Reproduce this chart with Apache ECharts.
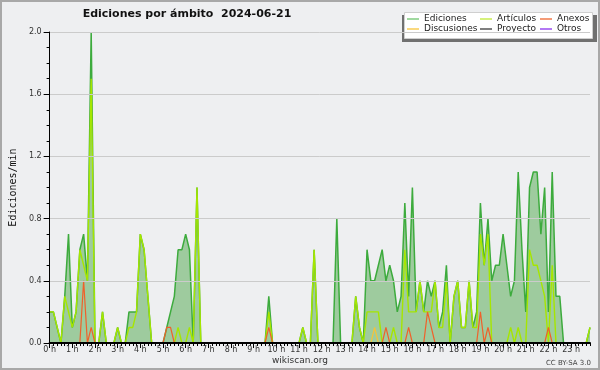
<!DOCTYPE html>
<html><head><meta charset="utf-8">
<script src="https://cdn.jsdelivr.net/npm/echarts@6/dist/echarts.min.js"></script>
<style>html,body{margin:0;padding:0;background:#eeeff1}#c{width:600px;height:370px}</style>
</head><body><div id="c"></div>
<script>
const hourLabels = ['0 h','1 h','2 h','3 h','4 h','5 h','6 h','7 h','8 h','9 h','10 h','11 h','12 h','13 h','14 h','15 h','16 h','17 h','18 h','19 h','20 h','21 h','22 h','23 h'];
const yTicks = [0, 0.4, 0.8, 1.2, 1.6, 2.0];
// one row per hour, 10-minute buckets (edits per minute)
const ediciones = [
 0.2,0.2,0.1,0,0.3,0.7,
 0.1,0.2,0.6,0.7,0.4,2.0,
 0,0,0.2,0,0,0,
 0.1,0,0,0.2,0.2,0.2,
 0.7,0.6,0.3,0,0,0,
 0,0.1,0.2,0.3,0.6,0.6,
 0.7,0.6,0,1.0,0,0,
 0,0,0,0,0,0,
 0,0,0,0,0,0,
 0,0,0,0,0.3,0,
 0,0,0,0,0,0,
 0,0.1,0,0,0.6,0,
 0,0,0,0,0.8,0,
 0,0,0,0.3,0.1,0,
 0.6,0.4,0.4,0.5,0.6,0.4,
 0.5,0.4,0.2,0.3,0.9,0.3,
 1.0,0.2,0.4,0.2,0.4,0.3,
 0.4,0.1,0.2,0.5,0,0.3,
 0.4,0.1,0.1,0.4,0.1,0.2,
 0.9,0.5,0.8,0.4,0.5,0.5,
 0.7,0.5,0.3,0.4,1.1,0.6,
 0.2,1.0,1.1,1.1,0.7,1.0,
 0.2,1.1,0.3,0.3,0,0,
 0,0,0,0,0,0.1
];
const articulos = [
 0.2,0.2,0.1,0,0.3,0.2,
 0.1,0.2,0.6,0.5,0.4,1.7,
 0,0,0.2,0,0,0,
 0.1,0,0,0.1,0.1,0.2,
 0.7,0.6,0.3,0,0,0,
 0,0,0,0,0.1,0,
 0,0.1,0,1.0,0,0,
 0,0,0,0,0,0,
 0,0,0,0,0,0,
 0,0,0,0,0.2,0,
 0,0,0,0,0,0,
 0,0.1,0,0,0.6,0,
 0,0,0,0,0,0,
 0,0,0,0.3,0.1,0,
 0.2,0.2,0.2,0.2,0,0,
 0,0.1,0,0,0.6,0.2,
 0.2,0.2,0.4,0.2,0.2,0.2,
 0.4,0.1,0.1,0.4,0,0.3,
 0.4,0.1,0.1,0.4,0.1,0.1,
 0.7,0.5,0.7,0,0,0,
 0,0,0.1,0,0.1,0,
 0,0.6,0.5,0.5,0.4,0.3,
 0,0.5,0,0,0,0,
 0,0,0,0,0,0.1
];
const anexos = [
 0,0,0,0,0,0,
 0,0,0,0.4,0,0.1,
 0,0,0,0,0,0,
 0,0,0,0,0,0,
 0,0,0,0,0,0,
 0,0.1,0.1,0,0,0,
 0,0,0,0,0,0,
 0,0,0,0,0,0,
 0,0,0,0,0,0,
 0,0,0,0,0.1,0,
 0,0,0,0,0,0,
 0,0,0,0,0,0,
 0,0,0,0,0,0,
 0,0,0,0,0,0,
 0,0,0,0,0,0.1,
 0,0,0,0,0,0.1,
 0,0,0,0,0.2,0.1,
 0,0,0,0,0,0,
 0,0,0,0,0,0,
 0.2,0,0.1,0,0,0,
 0,0,0,0,0,0,
 0,0,0,0,0,0,
 0.1,0,0,0,0,0,
 0,0,0,0,0,0
];
const discusiones = [
 0,0,0,0,0,0, 0,0,0,0,0,0, 0,0,0,0,0,0, 0,0,0,0,0,0,
 0,0,0,0,0,0, 0,0,0,0,0,0, 0,0,0,0,0,0, 0,0,0,0,0,0,
 0,0,0,0,0,0, 0,0,0,0,0,0, 0,0,0,0,0,0, 0,0,0,0,0,0,
 0,0,0,0,0,0, 0,0,0,0,0,0, 0,0,0.1,0,0,0, 0,0,0,0,0,0,
 0,0,0,0,0,0, 0,0,0,0,0,0, 0,0,0,0,0,0, 0,0,0,0,0,0,
 0,0,0,0,0,0, 0,0,0,0,0,0, 0,0,0,0,0,0, 0,0,0,0,0,0
];
const proyecto = new Array(144).fill(0);
const otros = new Array(144).fill(0);

const slots = [];
for (let h = 0; h < 24; h++) for (let m = 0; m < 60; m += 10) slots.push(h + ':' + (m < 10 ? '0' : '') + m);

const chart = echarts.init(document.getElementById('c'), null, {renderer: 'canvas'});
const F = 'DejaVu Sans';
function line(name, data, color, w, z) {
  return {name, type: 'line', data, symbol: 'none', z,
    lineStyle: {color, width: w}, itemStyle: {color}, emphasis: {disabled: true}, animation: false};
}
function li(name, color) { return {name, icon: 'rect', itemStyle: {color, borderWidth: 0}}; }
const legendCommon = {orient: 'vertical', top: 14, itemWidth: 12, itemHeight: 1.5, itemGap: 0, padding: 0,
  textStyle: {fontFamily: F, fontSize: 9, color: '#222', lineHeight: 10, height: 10}, selectedMode: false};
chart.setOption({
  animation: false,
  backgroundColor: '#eeeff1',
  grid: {left: 46, right: 10, top: 32, bottom: 27},
  graphic: [
    {type: 'rect', z: -1, shape: {x: 1, y: 1, width: 598, height: 368}, style: {fill: 'none', stroke: '#a8a8a8', lineWidth: 2}},
    {type: 'rect', z: 1, shape: {x: 402, y: 15, width: 195, height: 27}, style: {fill: '#707070'}},
    {type: 'rect', z: 2, shape: {x: 404.5, y: 12.5, width: 188, height: 26}, style: {fill: '#ffffff', stroke: '#cfcfcf', lineWidth: 1}},
    {type: 'text', x: 187, y: 14, style: {text: 'Ediciones por ámbito  2024-06-21', font: 'bold 11px "DejaVu Sans"', fill: '#111', align: 'center', verticalAlign: 'middle'}},
    {type: 'text', x: 300, y: 361, style: {text: 'wikiscan.org', font: '9px "DejaVu Sans"', fill: '#333', align: 'center', verticalAlign: 'middle'}},
    {type: 'text', x: 591, y: 363, style: {text: 'CC BY-SA 3.0', font: '7px "DejaVu Sans"', fill: '#444', align: 'right', verticalAlign: 'middle'}}
  ],
  legend: [
    Object.assign({left: 407, data: [li('Ediciones', '#80cc80'), li('Discusiones', '#f8cc55')]}, legendCommon),
    Object.assign({left: 480, data: [li('Artículos', '#c8ec50'), li('Proyecto', '#555555')]}, legendCommon),
    Object.assign({left: 540, data: [li('Anexos', '#f07a4a'), li('Otros', '#9a4df0')]}, legendCommon)
  ],
  xAxis: [
    {type: 'category', data: slots, boundaryGap: false, z: 10,
     axisLine: {lineStyle: {color: '#000', width: 2}},
     axisTick: {interval: 0, length: 3, lineStyle: {color: '#000'}},
     axisLabel: {show: false}, splitLine: {show: false}},
    {type: 'category', data: slots, boundaryGap: false, position: 'bottom', z: 10,
     axisLine: {show: false},
     axisTick: {interval: (i) => i % 6 === 0, length: 5, lineStyle: {color: '#000'}},
     axisLabel: {interval: (i) => i % 6 === 0, formatter: (v, i) => hourLabels[i / 6], fontFamily: F, fontSize: 8, color: '#333', margin: 3},
     splitLine: {show: false}}
  ],
  yAxis: {type: 'value', min: yTicks[0], max: yTicks[yTicks.length - 1], interval: 0.4, z: 10,
    name: 'Ediciones/min', nameLocation: 'middle', nameGap: 31, nameRotate: 90,
    nameTextStyle: {fontFamily: 'DejaVu Sans Mono', fontSize: 10, color: '#111'},
    axisLine: {show: true, lineStyle: {color: '#000', width: 1}},
    axisTick: {show: true, length: 6, lineStyle: {color: '#000'}},
    minorTick: {show: true, splitNumber: 4, length: 3, lineStyle: {color: '#000'}},
    axisLabel: {formatter: (v) => v.toFixed(1), fontFamily: F, fontSize: 8, color: '#333', margin: 8},
    splitLine: {lineStyle: {color: '#cbcbcb', width: 1}}},
  series: [
    Object.assign(line('Ediciones', ediciones, '#3dab3d', 1.5, 2), {areaStyle: {color: '#9ecb9e', opacity: 1}}),
    line('Artículos', articulos, '#a6e600', 1.4, 3),
    line('Anexos', anexos, '#f0602a', 1.2, 5),
    line('Discusiones', discusiones, '#f5c338', 1.2, 4),
    line('Proyecto', proyecto, '#555555', 1, 1),
    line('Otros', otros, '#9a4df0', 1, 1)
  ]
});
</script></body></html>
